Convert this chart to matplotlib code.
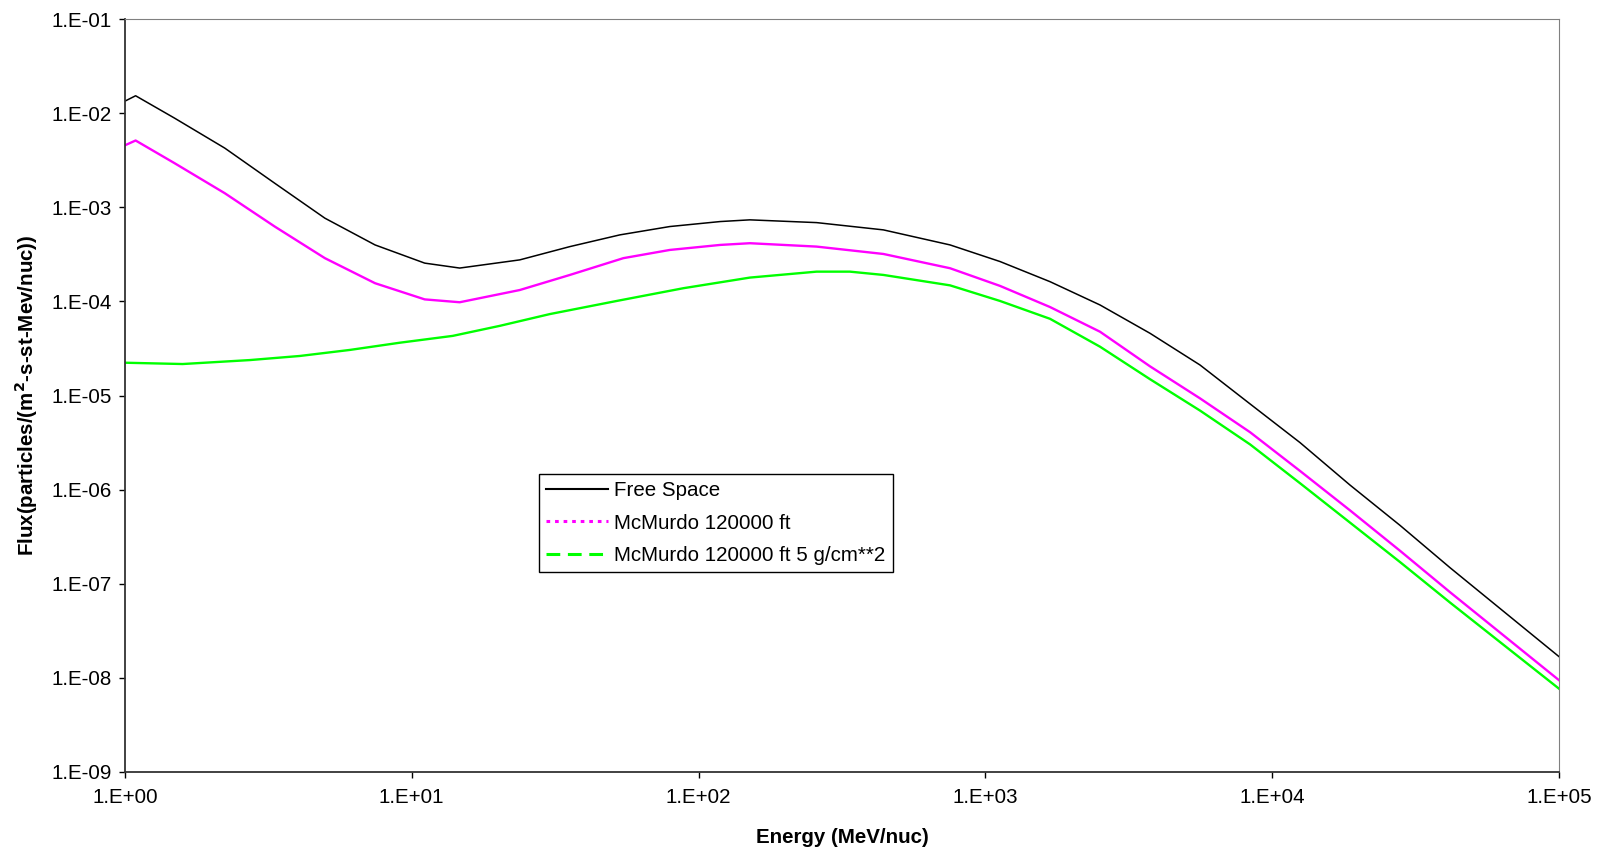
#!/usr/bin/env python3
#
#   Flux vs energy: free space and McMurdo balloon altitude (with/without 5 g/cm^2)
#

import math
import matplotlib
matplotlib.use("Agg")
import matplotlib.pyplot as plt
from matplotlib.ticker import FuncFormatter, LogLocator
from matplotlib.lines import Line2D

plt.rcParams["font.family"] = ["Liberation Sans", "DejaVu Sans"]

# Values (MeV/nuc, particles/(m2-s-st-MeV/nuc))
free_energy = [1.0, 1.09, 1.49, 2.23, 3.33, 4.98, 7.45, 11.1, 14.7, 23.8, 35.6,
               53.2, 79.4, 119, 151, 258, 441, 753, 1125, 1680, 2510, 3750,
               5600, 8375, 12500, 18660, 27900, 41690, 100000]
free_flux = [1.34e-2, 1.53e-2, 8.85e-3, 4.25e-3, 1.80e-3, 7.66e-4, 3.98e-4,
             2.55e-4, 2.26e-4, 2.76e-4, 3.82e-4, 5.09e-4, 6.24e-4, 7.05e-4,
             7.35e-4, 6.87e-4, 5.75e-4, 3.98e-4, 2.65e-4, 1.62e-4, 9.16e-5,
             4.58e-5, 2.11e-5, 8.13e-6, 3.16e-6, 1.12e-6, 4.17e-7, 1.48e-7,
             1.68e-8]

mcm_energy = [1.0, 1.09, 1.49, 2.23, 3.33, 4.98, 7.45, 11.1, 14.7, 23.8, 35.6,
              54.7, 79.4, 119, 151, 258, 441, 753, 1125, 1680, 2510, 3750,
              5600, 8375, 12500, 18660, 27900, 41690, 100000]
mcm_flux = [4.55e-3, 5.12e-3, 2.94e-3, 1.41e-3, 6.24e-4, 2.88e-4, 1.56e-4,
            1.05e-4, 9.79e-5, 1.32e-4, 1.91e-4, 2.88e-4, 3.52e-4, 3.98e-4,
            4.15e-4, 3.82e-4, 3.19e-4, 2.25e-4, 1.46e-4, 8.71e-5, 4.76e-5,
            2.04e-5, 9.33e-6, 4.07e-6, 1.58e-6, 6.03e-7, 2.24e-7, 8.13e-8,
            9.44e-9]

shield_energy = [1.0, 1.59, 2.73, 4.07, 6.09, 9.10, 13.9, 20.3, 30.3, 51.8,
                 88.5, 151, 258, 337, 441, 753, 1125, 1680, 2510, 3750, 5600,
                 8375, 12500, 18660, 27900, 41690, 100000]
shield_flux = [2.23e-5, 2.16e-5, 2.38e-5, 2.63e-5, 3.05e-5, 3.64e-5, 4.30e-5,
               5.50e-5, 7.33e-5, 1.01e-4, 1.38e-4, 1.79e-4, 2.07e-4, 2.07e-4,
               1.91e-4, 1.48e-4, 1.01e-4, 6.53e-5, 3.30e-5, 1.49e-5, 6.92e-6,
               3.02e-6, 1.17e-6, 4.47e-7, 1.70e-7, 6.31e-8, 7.67e-9]

labels = ["Free Space", "McMurdo 120000 ft", "McMurdo 120000 ft 5 g/cm**2"]

FS = 14.8

def excel_sci(v, pos):
    exp = int(round(math.log10(v)))
    return f"1.E{exp:+03d}"

fig = plt.figure(figsize=(16.01, 8.49), dpi=100)
ax = fig.add_axes([0.078, 0.0907, 0.8958, 0.8869])

ax.plot(free_energy, free_flux, color="black", lw=1.1)
ax.plot(mcm_energy, mcm_flux, color="#FF00FF", lw=1.7)
ax.plot(shield_energy, shield_flux, color="#00FF00", lw=1.7)

ax.set_xscale("log")
ax.set_yscale("log")
ax.set_xlim(1, 1e5)
ax.set_ylim(1e-9, 1e-1)
ax.xaxis.set_major_locator(LogLocator(base=10, numticks=10))
ax.yaxis.set_major_locator(LogLocator(base=10, numticks=12))
ax.xaxis.set_minor_locator(plt.NullLocator())
ax.yaxis.set_minor_locator(plt.NullLocator())
ax.xaxis.set_major_formatter(FuncFormatter(excel_sci))
ax.yaxis.set_major_formatter(FuncFormatter(excel_sci))
ax.tick_params(axis="both", direction="out", length=4.5, width=1,
               labelsize=FS, color="black")
ax.tick_params(axis="y", pad=5)
ax.tick_params(axis="x", pad=7)

ax.spines["left"].set_color("#333333")
ax.spines["bottom"].set_color("#333333")
ax.spines["left"].set_linewidth(1.3)
ax.spines["bottom"].set_linewidth(1.3)
ax.spines["top"].set_color("#808080")
ax.spines["right"].set_color("#808080")

ax.set_xlabel("Energy (MeV/nuc)", fontsize=FS, fontweight="bold")
ax.set_ylabel("Flux(particles/(m$^\\mathbf{2}$-s-st-Mev/nuc))", fontsize=FS,
              fontweight="bold", va="center")
ax.xaxis.set_label_coords(0.5, -0.075)
ax.yaxis.set_label_coords(-0.069, 0.5)

handles = [
    Line2D([], [], color="black", lw=1.5),
    Line2D([], [], color="#FF00FF", lw=2.2, linestyle=(0, (1.2, 1.6))),
    Line2D([], [], color="#00FF00", lw=2.2, linestyle=(0, (4.5, 2.5))),
]
leg = fig.legend(handles, labels, loc="upper left",
                 bbox_to_anchor=(0.3367, 0.4417), fontsize=FS, frameon=True,
                 fancybox=False, edgecolor="black", framealpha=1,
                 handlelength=3.0, handletextpad=0.3, labelspacing=0.65,
                 borderpad=0.35, borderaxespad=0)
leg.get_frame().set_linewidth(1.0)

fig.savefig("out.png", dpi=100)
